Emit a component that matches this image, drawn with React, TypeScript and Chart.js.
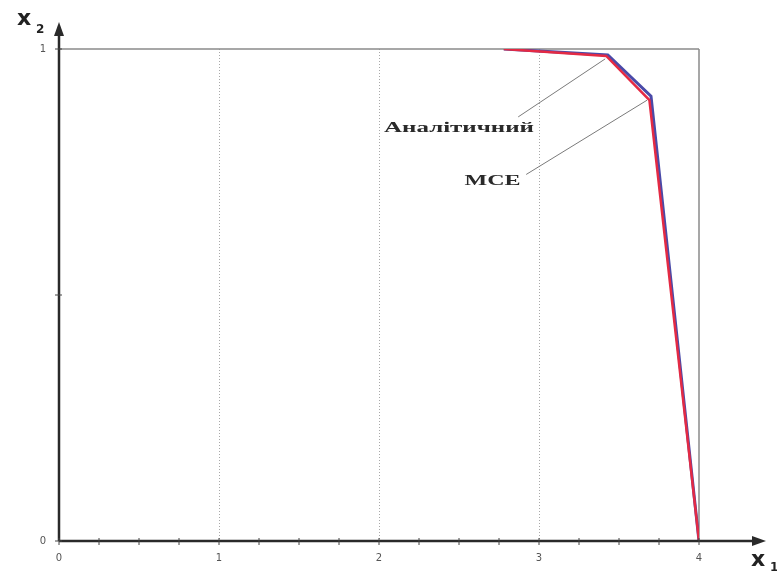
import React, { useEffect, useRef } from "react";
import { Chart, registerables } from "chart.js";

Chart.register(...registerables);

// Data (x1, x2)
const analyticX = [2.78, 3.42, 3.69, 4.0];
const analyticY = [1.0, 0.986, 0.896, 0.0];
const mceX = [2.78, 3.43, 3.7, 4.0];
const mceY = [1.0, 0.988, 0.904, 0.0];

const xTickValues = [0, 1, 2, 3, 4];
const yTickValues = [0, 1];
const xMinorStep = 0.25;
const yMinorStep = 0.5;

const labelAnalytic = "Аналітичний";
const labelMCE = "МСЕ";

const toPoints = (xs: number[], ys: number[]) => xs.map((x, i) => ({ x, y: ys[i] }));

const decorPlugin = {
  id: "decor",
  beforeDatasetsDraw(chart: any) {
    const { ctx } = chart;
    const xs = chart.scales.x;
    const ys = chart.scales.y;
    const x0 = xs.getPixelForValue(0);
    const x4 = xs.getPixelForValue(4);
    const y0 = ys.getPixelForValue(0);
    const y1 = ys.getPixelForValue(1);
    ctx.save();
    ctx.strokeStyle = "#8a8a8a";
    ctx.lineWidth = 1.5;
    ctx.beginPath();
    ctx.moveTo(x0, y1);
    ctx.lineTo(x4, y1);
    ctx.moveTo(x4, y1);
    ctx.lineTo(x4, y0);
    ctx.stroke();
    ctx.restore();
  },
  afterDatasetsDraw(chart: any) {
    const { ctx } = chart;
    const xs = chart.scales.x;
    const ys = chart.scales.y;
    const x0 = xs.getPixelForValue(0);
    const y0 = ys.getPixelForValue(0);
    ctx.save();
    ctx.strokeStyle = "#2a2a2a";
    ctx.fillStyle = "#2a2a2a";
    ctx.lineWidth = 2.5;
    const xEnd = 766;
    const yEnd = 22;
    ctx.beginPath();
    ctx.moveTo(x0, y0);
    ctx.lineTo(xEnd - 8, y0);
    ctx.moveTo(x0, y0);
    ctx.lineTo(x0, yEnd + 8);
    ctx.stroke();
    ctx.beginPath();
    ctx.moveTo(xEnd, y0);
    ctx.lineTo(xEnd - 14, y0 - 5);
    ctx.lineTo(xEnd - 14, y0 + 5);
    ctx.closePath();
    ctx.fill();
    ctx.beginPath();
    ctx.moveTo(x0, yEnd);
    ctx.lineTo(x0 - 5, yEnd + 14);
    ctx.lineTo(x0 + 5, yEnd + 14);
    ctx.closePath();
    ctx.fill();
    ctx.lineWidth = 1;
    ctx.strokeStyle = "#444";
    ctx.beginPath();
    for (let v = 0; v <= 4.0001; v += xMinorStep) {
      const px = xs.getPixelForValue(v);
      ctx.moveTo(px, y0 - 3);
      ctx.lineTo(px, y0 + 4);
    }
    for (let v = 0; v <= 1.0001; v += yMinorStep) {
      const py = ys.getPixelForValue(v);
      ctx.moveTo(x0 - 4, py);
      ctx.lineTo(x0 + 3, py);
    }
    ctx.stroke();

    // axis titles
    ctx.fillStyle = "#222";
    ctx.textBaseline = "alphabetic";
    ctx.textAlign = "left";
    ctx.font = "bold 22px 'DejaVu Sans'";
    ctx.fillText("x", 17, 25);
    ctx.font = "bold 12px 'DejaVu Sans'";
    ctx.fillText("2", 36, 33);
    ctx.font = "bold 22px 'DejaVu Sans'";
    ctx.fillText("x", 751, 566);
    ctx.font = "bold 12px 'DejaVu Sans'";
    ctx.fillText("1", 770, 571);

    // leader lines
    const pA = { x: xs.getPixelForValue(analyticX[1]), y: ys.getPixelForValue(analyticY[1]) };
    const pM = { x: xs.getPixelForValue(mceX[2]), y: ys.getPixelForValue(mceY[2]) };
    const aAnchor = { x: xs.getPixelForValue(2.87), y: ys.getPixelForValue(0.862) };
    const mAnchor = { x: xs.getPixelForValue(2.92), y: ys.getPixelForValue(0.745) };
    ctx.strokeStyle = "#7a7a7a";
    ctx.lineWidth = 1;
    ctx.beginPath();
    ctx.moveTo(aAnchor.x, aAnchor.y);
    ctx.lineTo(pA.x - 1, pA.y + 3);
    ctx.moveTo(mAnchor.x, mAnchor.y);
    ctx.lineTo(pM.x - 4, pM.y + 4);
    ctx.stroke();

    const drawStretched = (text: string, cx: number, cy: number, targetW: number) => {
      ctx.font = "bold 14px 'Liberation Serif'";
      const w = ctx.measureText(text).width;
      const sx = targetW / w;
      ctx.save();
      ctx.translate(cx, cy);
      ctx.scale(sx, 1);
      ctx.textAlign = "center";
      ctx.textBaseline = "middle";
      ctx.fillStyle = "#2a2a2a";
      ctx.fillText(text, 0, 0);
      ctx.restore();
    };
    drawStretched(labelAnalytic, xs.getPixelForValue(2.5), ys.getPixelForValue(0.838), 150);
    drawStretched(labelMCE, xs.getPixelForValue(2.71), ys.getPixelForValue(0.73), 56);
    ctx.restore();
  },
};

export default function App() {
  const ref = useRef<HTMLCanvasElement | null>(null);
  useEffect(() => {
    if (!ref.current) return;
    const chart = new Chart(ref.current, {
      type: "line",
      data: {
        datasets: [
          {
            label: labelAnalytic,
            data: toPoints(analyticX, analyticY),
            borderColor: "#e42a44",
            borderWidth: 2.5,
            pointRadius: 0,
            tension: 0,
          },
          {
            label: labelMCE,
            data: toPoints(mceX, mceY),
            borderColor: "#4a4aa8",
            borderWidth: 3,
            pointRadius: 0,
            tension: 0,
          },
        ],
      },
      options: {
        responsive: false,
        animation: false,
        devicePixelRatio: 1,
        layout: { padding: { left: 0, top: 49, right: 78, bottom: 0 } },
        plugins: { legend: { display: false }, tooltip: { enabled: false } },
        scales: {
          x: {
            type: "linear",
            min: 0,
            max: 4,
            afterFit: (s: any) => {
              s.height = 31;
            },
            afterBuildTicks: (s: any) => {
              s.ticks = xTickValues.map((v) => ({ value: v }));
            },
            ticks: {
              padding: 11,
              color: "#555",
              font: { size: 10, family: "'DejaVu Sans'" },
            },
            grid: {
              drawTicks: false,
              color: (c: any) =>
                c.tick && c.tick.value > 0 && c.tick.value < 4 ? "#a8a8a8" : "rgba(0,0,0,0)",
              lineWidth: 1,
            },
            border: { display: false, dash: [1, 2] },
          },
          y: {
            type: "linear",
            min: 0,
            max: 1,
            afterFit: (s: any) => {
              s.width = 59;
            },
            afterBuildTicks: (s: any) => {
              s.ticks = yTickValues.map((v) => ({ value: v }));
            },
            ticks: {
              padding: 13,
              color: "#555",
              font: { size: 10, family: "'DejaVu Sans'" },
            },
            grid: { display: false, drawTicks: false },
            border: { display: false },
          },
        },
      },
      plugins: [decorPlugin],
    });
    return () => chart.destroy();
  }, []);
  return (
    <div style={{ position: "absolute", left: 0, top: 0, width: 777, height: 572, background: "#fff" }}>
      <canvas ref={ref} width={777} height={572} />
    </div>
  );
}
